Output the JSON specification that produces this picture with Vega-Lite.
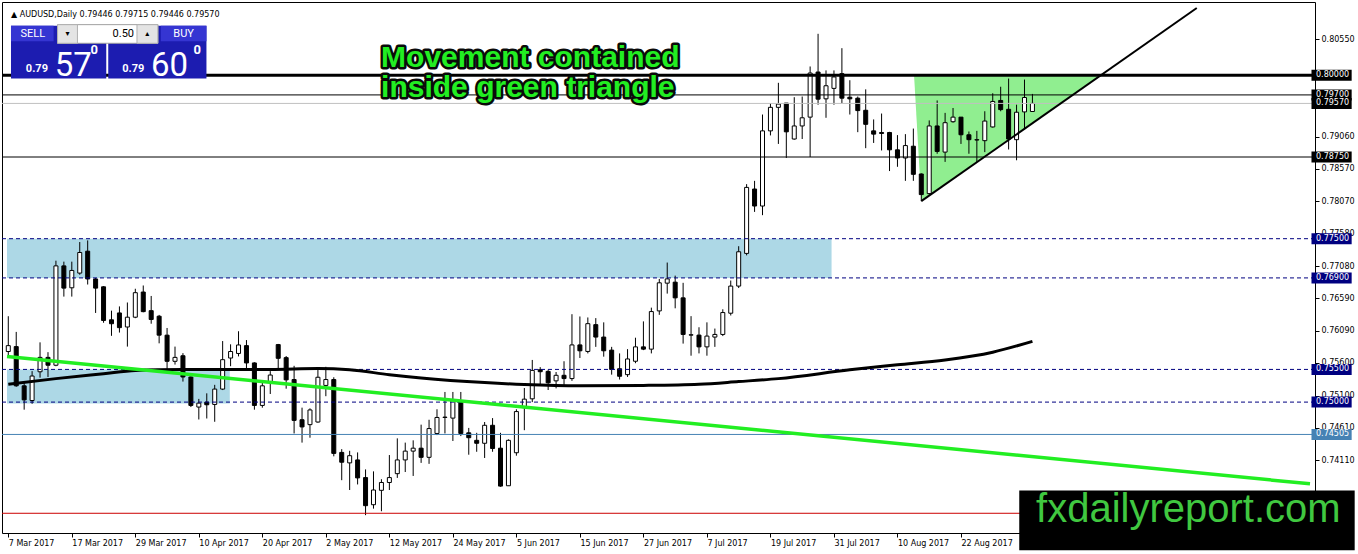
{
"$schema":"https://vega.github.io/schema/vega-lite/v6.json",
"width":1313,"height":531,
"autosize":{"type":"none"},
"padding":{"left":2,"top":2,"right":43,"bottom":21},
"background":"white",
"config":{"view":{"stroke":"black","strokeWidth":1},"axis":{"grid":false,"domain":false,"labelFont":"DejaVu Sans","labelFontSize":8,"labelColor":"black","tickColor":"black","tickSize":4,"title":null}},
"datasets":{
"candles":[
{"i":0,"o":0.75774,"h":0.76314,"l":0.75699,"c":0.75864},
{"i":1,"o":0.75849,"h":0.76074,"l":0.75234,"c":0.75249},
{"i":2,"o":0.75249,"h":0.75314,"l":0.74884,"c":0.75034},
{"i":3,"o":0.75024,"h":0.75474,"l":0.74974,"c":0.75399},
{"i":4,"o":0.75464,"h":0.75914,"l":0.75374,"c":0.75684},
{"i":5,"o":0.75684,"h":0.75764,"l":0.75384,"c":0.75564},
{"i":6,"o":0.75564,"h":0.77164,"l":0.75549,"c":0.77084},
{"i":7,"o":0.77084,"h":0.77149,"l":0.76614,"c":0.76744},
{"i":8,"o":0.76749,"h":0.77149,"l":0.76614,"c":0.77014},
{"i":9,"o":0.76974,"h":0.77449,"l":0.76949,"c":0.77289},
{"i":10,"o":0.77309,"h":0.77474,"l":0.76799,"c":0.76884},
{"i":11,"o":0.76884,"h":0.76899,"l":0.76364,"c":0.76744},
{"i":12,"o":0.76764,"h":0.76774,"l":0.76214,"c":0.76249},
{"i":13,"o":0.76259,"h":0.76399,"l":0.76014,"c":0.76199},
{"i":14,"o":0.76364,"h":0.76464,"l":0.76064,"c":0.76139},
{"i":15,"o":0.76149,"h":0.76524,"l":0.75849,"c":0.76299},
{"i":16,"o":0.76299,"h":0.76734,"l":0.76284,"c":0.76674},
{"i":17,"o":0.76684,"h":0.76784,"l":0.76374,"c":0.76384},
{"i":18,"o":0.76399,"h":0.76624,"l":0.76199,"c":0.76264},
{"i":19,"o":0.76314,"h":0.76334,"l":0.75899,"c":0.76024},
{"i":20,"o":0.76024,"h":0.76134,"l":0.75499,"c":0.75624},
{"i":21,"o":0.75624,"h":0.75849,"l":0.75574,"c":0.75684},
{"i":22,"o":0.75709,"h":0.75749,"l":0.75314,"c":0.75384},
{"i":23,"o":0.75384,"h":0.75394,"l":0.74924,"c":0.74949},
{"i":24,"o":0.74924,"h":0.75049,"l":0.74734,"c":0.74984},
{"i":25,"o":0.74999,"h":0.75134,"l":0.74749,"c":0.74959},
{"i":26,"o":0.74964,"h":0.75264,"l":0.74699,"c":0.75199},
{"i":27,"o":0.75199,"h":0.75934,"l":0.75184,"c":0.75649},
{"i":28,"o":0.75674,"h":0.75884,"l":0.75549,"c":0.75774},
{"i":29,"o":0.75744,"h":0.76084,"l":0.75699,"c":0.75874},
{"i":30,"o":0.75864,"h":0.75949,"l":0.75499,"c":0.75599},
{"i":31,"o":0.75599,"h":0.75609,"l":0.74884,"c":0.74949},
{"i":32,"o":0.74949,"h":0.75299,"l":0.74914,"c":0.75249},
{"i":33,"o":0.75299,"h":0.75474,"l":0.75124,"c":0.75414},
{"i":34,"o":0.7588,"h":0.7589,"l":0.7552,"c":0.7567},
{"i":35,"o":0.7568,"h":0.75705,"l":0.75205,"c":0.7534},
{"i":36,"o":0.75345,"h":0.75555,"l":0.7452,"c":0.7472},
{"i":37,"o":0.7473,"h":0.74915,"l":0.7438,"c":0.7462},
{"i":38,"o":0.74655,"h":0.74905,"l":0.74455,"c":0.7488},
{"i":39,"o":0.74695,"h":0.7553,"l":0.74685,"c":0.7538},
{"i":40,"o":0.75255,"h":0.7554,"l":0.7509,"c":0.75345},
{"i":41,"o":0.75345,"h":0.7538,"l":0.7417,"c":0.74215},
{"i":42,"o":0.7423,"h":0.7428,"l":0.73805,"c":0.7408},
{"i":43,"o":0.7407,"h":0.74255,"l":0.73655,"c":0.7418},
{"i":44,"o":0.74115,"h":0.7423,"l":0.7374,"c":0.7384},
{"i":45,"o":0.73845,"h":0.7397,"l":0.7327,"c":0.73415},
{"i":46,"o":0.7343,"h":0.7394,"l":0.7337,"c":0.73655},
{"i":47,"o":0.7365,"h":0.7382,"l":0.7333,"c":0.7377},
{"i":48,"o":0.7377,"h":0.7419,"l":0.73655,"c":0.73845},
{"i":49,"o":0.73905,"h":0.74445,"l":0.7384,"c":0.74115},
{"i":50,"o":0.74115,"h":0.7438,"l":0.7393,"c":0.7425},
{"i":51,"o":0.7425,"h":0.74415,"l":0.7387,"c":0.74295},
{"i":52,"o":0.74295,"h":0.74655,"l":0.7407,"c":0.74155},
{"i":53,"o":0.74155,"h":0.7473,"l":0.74055,"c":0.74595},
{"i":54,"o":0.7452,"h":0.7489,"l":0.74495,"c":0.74765},
{"i":55,"o":0.74765,"h":0.75155,"l":0.7452,"c":0.7477},
{"i":56,"o":0.74755,"h":0.75155,"l":0.74405,"c":0.7503},
{"i":57,"o":0.75005,"h":0.75155,"l":0.7448,"c":0.7452},
{"i":58,"o":0.7453,"h":0.74605,"l":0.74195,"c":0.74455},
{"i":59,"o":0.74415,"h":0.7453,"l":0.7424,"c":0.7437},
{"i":60,"o":0.7437,"h":0.74695,"l":0.74145,"c":0.74645},
{"i":61,"o":0.74645,"h":0.74755,"l":0.7424,"c":0.7429},
{"i":62,"o":0.74295,"h":0.7453,"l":0.73705,"c":0.73715},
{"i":63,"o":0.7372,"h":0.7443,"l":0.7372,"c":0.74415},
{"i":64,"o":0.74225,"h":0.7489,"l":0.7418,"c":0.74855},
{"i":65,"o":0.74915,"h":0.75215,"l":0.7457,"c":0.75045},
{"i":66,"o":0.7505,"h":0.75645,"l":0.75,"c":0.75485},
{"i":67,"o":0.75495,"h":0.75535,"l":0.7526,"c":0.75465},
{"i":68,"o":0.7547,"h":0.75495,"l":0.75185,"c":0.75295},
{"i":69,"o":0.75325,"h":0.7546,"l":0.7521,"c":0.7541},
{"i":70,"o":0.7541,"h":0.75625,"l":0.7524,"c":0.7536},
{"i":71,"o":0.7536,"h":0.76345,"l":0.75325,"c":0.75875},
{"i":72,"o":0.75875,"h":0.7631,"l":0.75675,"c":0.75785},
{"i":73,"o":0.75775,"h":0.76295,"l":0.75745,"c":0.762},
{"i":74,"o":0.76185,"h":0.76285,"l":0.75845,"c":0.75995},
{"i":75,"o":0.75995,"h":0.7622,"l":0.75695,"c":0.75785},
{"i":76,"o":0.75795,"h":0.75845,"l":0.7542,"c":0.755},
{"i":77,"o":0.7551,"h":0.75745,"l":0.75345,"c":0.75395},
{"i":78,"o":0.7542,"h":0.7581,"l":0.75385,"c":0.7566},
{"i":79,"o":0.75625,"h":0.75985,"l":0.75595,"c":0.75845},
{"i":80,"o":0.75845,"h":0.76235,"l":0.75795,"c":0.7581},
{"i":81,"o":0.7581,"h":0.76445,"l":0.75745,"c":0.76385},
{"i":82,"o":0.76395,"h":0.76885,"l":0.76335,"c":0.76825},
{"i":83,"o":0.7682,"h":0.77135,"l":0.7666,"c":0.76885},
{"i":84,"o":0.76835,"h":0.76935,"l":0.76435,"c":0.76595},
{"i":85,"o":0.76595,"h":0.76825,"l":0.75895,"c":0.76035},
{"i":86,"o":0.76025,"h":0.76315,"l":0.7571,"c":0.7603},
{"i":87,"o":0.76025,"h":0.76145,"l":0.75745,"c":0.75845},
{"i":88,"o":0.75845,"h":0.7622,"l":0.7571,"c":0.7601},
{"i":89,"o":0.75995,"h":0.76125,"l":0.75845,"c":0.76035},
{"i":90,"o":0.76035,"h":0.7642,"l":0.7601,"c":0.7637},
{"i":91,"o":0.7636,"h":0.7686,"l":0.76325,"c":0.76775},
{"i":92,"o":0.76775,"h":0.77385,"l":0.76745,"c":0.773},
{"i":93,"o":0.77275,"h":0.78335,"l":0.77245,"c":0.78285},
{"i":94,"o":0.7826,"h":0.78385,"l":0.7791,"c":0.78},
{"i":95,"o":0.78,"h":0.794,"l":0.7786,"c":0.7915},
{"i":96,"o":0.7915,"h":0.79575,"l":0.7908,"c":0.7951},
{"i":97,"o":0.7951,"h":0.79885,"l":0.7895,"c":0.7956},
{"i":98,"o":0.79575,"h":0.79575,"l":0.78735,"c":0.79135},
{"i":99,"o":0.79025,"h":0.79665,"l":0.79015,"c":0.79225},
{"i":100,"o":0.79225,"h":0.79675,"l":0.79025,"c":0.7935},
{"i":101,"o":0.7936,"h":0.80135,"l":0.7875,"c":0.80035},
{"i":102,"o":0.8005,"h":0.80635,"l":0.7955,"c":0.79635},
{"i":103,"o":0.7964,"h":0.80075,"l":0.7935,"c":0.7984},
{"i":104,"o":0.798,"h":0.80075,"l":0.7955,"c":0.79975},
{"i":105,"o":0.80025,"h":0.80415,"l":0.79575,"c":0.7965},
{"i":106,"o":0.79665,"h":0.79925,"l":0.794,"c":0.7964},
{"i":107,"o":0.7965,"h":0.79675,"l":0.7913,"c":0.7946},
{"i":108,"o":0.79465,"h":0.79785,"l":0.78885,"c":0.7925},
{"i":109,"o":0.7915,"h":0.79325,"l":0.78965,"c":0.791},
{"i":110,"o":0.79125,"h":0.79415,"l":0.7885,"c":0.7911},
{"i":111,"o":0.79125,"h":0.79135,"l":0.78535,"c":0.7886},
{"i":112,"o":0.7886,"h":0.79085,"l":0.786,"c":0.78735},
{"i":113,"o":0.78735,"h":0.791,"l":0.78385,"c":0.78925},
{"i":114,"o":0.78915,"h":0.79185,"l":0.78385,"c":0.78485},
{"i":115,"o":0.7849,"h":0.785,"l":0.78075,"c":0.78175},
{"i":116,"o":0.7819,"h":0.7931,"l":0.78175,"c":0.79225},
{"i":117,"o":0.79225,"h":0.79615,"l":0.788,"c":0.78835},
{"i":118,"o":0.78825,"h":0.79425,"l":0.78675,"c":0.79275},
{"i":119,"o":0.7929,"h":0.795,"l":0.79275,"c":0.7936},
{"i":120,"o":0.7936,"h":0.7936,"l":0.7895,"c":0.7909},
{"i":121,"o":0.7909,"h":0.7914,"l":0.788,"c":0.79015},
{"i":122,"o":0.7901,"h":0.7915,"l":0.78675,"c":0.79015},
{"i":123,"o":0.79,"h":0.7945,"l":0.78825,"c":0.793},
{"i":124,"o":0.7921,"h":0.79725,"l":0.792,"c":0.796},
{"i":125,"o":0.79615,"h":0.79825,"l":0.7945,"c":0.79475},
{"i":126,"o":0.7948,"h":0.7995,"l":0.78865,"c":0.79025},
{"i":127,"o":0.79015,"h":0.7955,"l":0.787,"c":0.79435},
{"i":128,"o":0.7944,"h":0.79935,"l":0.79175,"c":0.7966},
{"i":129,"o":0.79446,"h":0.79715,"l":0.79446,"c":0.7957}
],
"ma":[
{"i":0,"v":0.75273},{"i":6,"v":0.75359},{"i":12,"v":0.75434},{"i":16,"v":0.75483},{"i":22,"v":0.75498},{"i":33,"v":0.755},{"i":39,"v":0.75513},{"i":43,"v":0.75494},{"i":48,"v":0.7542},{"i":52,"v":0.7537},{"i":60,"v":0.75299},{"i":65,"v":0.75269},{"i":72,"v":0.75249},{"i":80,"v":0.75255},{"i":87,"v":0.75273},{"i":92,"v":0.75314},{"i":97,"v":0.75359},{"i":106,"v":0.75494},{"i":112,"v":0.7557},{"i":118,"v":0.75644},{"i":124,"v":0.75764},{"i":129,"v":0.75929}
],
"green":[{"i":-0.1625,"p":0.75696},{"i":163.9625,"p":0.7375}],
"trend":[{"i":115.0,"p":0.78074},{"i":149.7,"p":0.8103}],
"tri":[{"i":114.09,"top":0.8,"bot":0.8},{"i":115.0,"top":0.8,"bot":0.78074},{"i":137.6,"top":0.8,"bot":0.8}],
"zones":[{"a":-0.1625,"b":103.7,"lo":0.769,"hi":0.775},{"a":-0.1625,"b":27.9,"lo":0.7498,"hi":0.755}],
"dashed":[{"p":0.775},{"p":0.769},{"p":0.755},{"p":0.75}],
"thin":[{"p":0.797},{"p":0.7875}],
"blackTags":[{"p":0.8},{"p":0.797},{"p":0.7957},{"p":0.7875}],
"navyTags":[{"p":0.775},{"p":0.769},{"p":0.755},{"p":0.75}],
"steelTags":[{"p":0.74505}],
"one":[{}]
},
"layer":[
{"data":{"name":"zones"},"mark":{"type":"rect","color":"#add8e6"},
 "encoding":{
  "x":{"field":"a","type":"quantitative","scale":{"domain":[-0.1625,163.9625],"nice":false,"zero":false},"title":null,
   "axis":{"orient":"bottom","values":[0,8,16,24,32,40,48,56,64,72,80,88,96,104,112,120],"labelExpr":"['7 Mar 2017','17 Mar 2017','29 Mar 2017','10 Apr 2017','20 Apr 2017','2 May 2017','12 May 2017','24 May 2017','5 Jun 2017','15 Jun 2017','27 Jun 2017','7 Jul 2017','19 Jul 2017','31 Jul 2017','10 Aug 2017','22 Aug 2017'][round(datum.value/8)]","labelAlign":"left","labelPadding":2,"labelFlush":false,"labelOverlap":false,"labelBound":false,"title":null}},
  "x2":{"field":"b"},
  "y":{"field":"lo","type":"quantitative","scale":{"domain":[0.730736,0.810451],"nice":false,"zero":false},"title":null,
   "axis":{"orient":"right","values":[0.8055,0.7906,0.7857,0.7807,0.7758,0.7708,0.7659,0.7609,0.756,0.751,0.7461,0.7411],"format":".5f","labelPadding":2,"labelFlush":false,"labelOverlap":false,"labelBound":false,"title":null}},
  "y2":{"field":"hi"}}},
{"data":{"name":"tri"},"mark":{"type":"area","color":"#90ee90","opacity":1},
 "encoding":{"x":{"field":"i","type":"quantitative","scale":{"domain":[-0.1625,163.9625],"nice":false,"zero":false},"title":null},
  "y":{"field":"top","type":"quantitative","scale":{"domain":[0.730736,0.810451],"nice":false,"zero":false},"title":null},"y2":{"field":"bot"}}},
{"data":{"name":"candles"},"mark":{"type":"rule","color":"black","strokeWidth":1},
 "encoding":{"x":{"field":"i","type":"quantitative","scale":{"domain":[-0.1625,163.9625],"nice":false,"zero":false},"title":null},
  "y":{"field":"l","type":"quantitative","scale":{"domain":[0.730736,0.810451],"nice":false,"zero":false},"title":null},"y2":{"field":"h"}}},
{"data":{"name":"candles"},"mark":{"type":"bar","width":4,"stroke":"black","strokeWidth":1},
 "encoding":{"x":{"field":"i","type":"quantitative","scale":{"domain":[-0.1625,163.9625],"nice":false,"zero":false},"title":null},
  "y":{"field":"o","type":"quantitative","scale":{"domain":[0.730736,0.810451],"nice":false,"zero":false},"title":null},"y2":{"field":"c"},
  "fill":{"condition":{"test":"datum.c >= datum.o","value":"white"},"value":"black"}}},
{"data":{"name":"dashed"},"mark":{"type":"rule","color":"#000080","strokeWidth":1,"strokeDash":[4,3]},
 "encoding":{"y":{"field":"p","type":"quantitative","scale":{"domain":[0.730736,0.810451],"nice":false,"zero":false},"title":null}}},
{"data":{"name":"thin"},"mark":{"type":"rule","color":"black","strokeWidth":1},
 "encoding":{"y":{"field":"p","type":"quantitative","scale":{"domain":[0.730736,0.810451],"nice":false,"zero":false},"title":null}}},
{"data":{"name":"one"},"mark":{"type":"rule","color":"#c0c0c0","strokeWidth":1},
 "encoding":{"y":{"datum":0.7957,"type":"quantitative","scale":{"domain":[0.730736,0.810451],"nice":false,"zero":false},"title":null}}},
{"data":{"name":"one"},"mark":{"type":"rule","color":"#4682b4","strokeWidth":1},
 "encoding":{"y":{"datum":0.74505,"type":"quantitative","scale":{"domain":[0.730736,0.810451],"nice":false,"zero":false},"title":null}}},
{"data":{"name":"one"},"mark":{"type":"rule","color":"#cc0000","strokeWidth":1},
 "encoding":{"y":{"datum":0.73299,"type":"quantitative","scale":{"domain":[0.730736,0.810451],"nice":false,"zero":false},"title":null}}},
{"data":{"name":"one"},"mark":{"type":"rule","color":"black","strokeWidth":3},
 "encoding":{"y":{"datum":0.8,"type":"quantitative","scale":{"domain":[0.730736,0.810451],"nice":false,"zero":false},"title":null}}},
{"data":{"name":"ma"},"mark":{"type":"line","color":"black","strokeWidth":3,"interpolate":"monotone"},
 "encoding":{"x":{"field":"i","type":"quantitative","scale":{"domain":[-0.1625,163.9625],"nice":false,"zero":false},"title":null},
  "y":{"field":"v","type":"quantitative","scale":{"domain":[0.730736,0.810451],"nice":false,"zero":false},"title":null}}},
{"data":{"name":"green"},"mark":{"type":"line","color":"#22ee22","strokeWidth":3.5},
 "encoding":{"x":{"field":"i","type":"quantitative","scale":{"domain":[-0.1625,163.9625],"nice":false,"zero":false},"title":null},
  "y":{"field":"p","type":"quantitative","scale":{"domain":[0.730736,0.810451],"nice":false,"zero":false},"title":null}}},
{"data":{"name":"trend"},"mark":{"type":"line","color":"black","strokeWidth":2},
 "encoding":{"x":{"field":"i","type":"quantitative","scale":{"domain":[-0.1625,163.9625],"nice":false,"zero":false},"title":null},
  "y":{"field":"p","type":"quantitative","scale":{"domain":[0.730736,0.810451],"nice":false,"zero":false},"title":null}}},
{"data":{"name":"one"},"mark":{"type":"text","text":["Movement contained","inside green triangle"],"font":"Liberation Sans","fontWeight":"bold","fontSize":30,"lineHeight":30,"align":"left","baseline":"alphabetic","fill":"#0a0a0a","stroke":"#0a0a0a","strokeWidth":5,"strokeJoin":"round"},
 "encoding":{"x":{"datum":46.96,"type":"quantitative","scale":{"domain":[-0.1625,163.9625],"nice":false,"zero":false},"title":null},
  "y":{"datum":0.8012,"type":"quantitative","scale":{"domain":[0.730736,0.810451],"nice":false,"zero":false},"title":null}}},
{"data":{"name":"one"},"mark":{"type":"text","text":["Movement contained","inside green triangle"],"font":"Liberation Sans","fontWeight":"bold","fontSize":30,"lineHeight":30,"align":"left","baseline":"alphabetic","fill":"#22ee22"},
 "encoding":{"x":{"datum":46.96,"type":"quantitative","scale":{"domain":[-0.1625,163.9625],"nice":false,"zero":false},"title":null},
  "y":{"datum":0.8012,"type":"quantitative","scale":{"domain":[0.730736,0.810451],"nice":false,"zero":false},"title":null}}},
{"data":{"name":"one"},"mark":{"type":"rect","color":"#1c1cb0"},
 "encoding":{"x":{"datum":0.34,"type":"quantitative","scale":{"domain":[-0.1625,163.9625],"nice":false,"zero":false},"title":null},"x2":{"datum":12.34},
  "y":{"datum":0.8076,"type":"quantitative","scale":{"domain":[0.730736,0.810451],"nice":false,"zero":false},"title":null},"y2":{"datum":0.7995}}},
{"data":{"name":"one"},"mark":{"type":"rect","color":"#1c1cb0"},
 "encoding":{"x":{"datum":12.59,"type":"quantitative","scale":{"domain":[-0.1625,163.9625],"nice":false,"zero":false},"title":null},"x2":{"datum":24.96},
  "y":{"datum":0.8076,"type":"quantitative","scale":{"domain":[0.730736,0.810451],"nice":false,"zero":false},"title":null},"y2":{"datum":0.7995}}},
{"data":{"name":"one"},"mark":{"type":"rect","color":"#3535d2"},
 "encoding":{"x":{"datum":0.34,"type":"quantitative","scale":{"domain":[-0.1625,163.9625],"nice":false,"zero":false},"title":null},"x2":{"datum":5.71},
  "y":{"datum":0.8076,"type":"quantitative","scale":{"domain":[0.730736,0.810451],"nice":false,"zero":false},"title":null},"y2":{"datum":0.8052}}},
{"data":{"name":"one"},"mark":{"type":"rect","color":"#3535d2"},
 "encoding":{"x":{"datum":19.21,"type":"quantitative","scale":{"domain":[-0.1625,163.9625],"nice":false,"zero":false},"title":null},"x2":{"datum":24.96},
  "y":{"datum":0.8076,"type":"quantitative","scale":{"domain":[0.730736,0.810451],"nice":false,"zero":false},"title":null},"y2":{"datum":0.8052}}},
{"data":{"name":"one"},"mark":{"type":"rect","fill":"white","stroke":"#a0a0a0","strokeWidth":1},
 "encoding":{"x":{"datum":6.21,"type":"quantitative","scale":{"domain":[-0.1625,163.9625],"nice":false,"zero":false},"title":null},"x2":{"datum":18.84},
  "y":{"datum":0.80775,"type":"quantitative","scale":{"domain":[0.730736,0.810451],"nice":false,"zero":false},"title":null},"y2":{"datum":0.8049}}},
{"data":{"name":"one"},"mark":{"type":"rect","fill":"#e4e4e4","stroke":"#b0b0b0","strokeWidth":1},
 "encoding":{"x":{"datum":6.21,"type":"quantitative","scale":{"domain":[-0.1625,163.9625],"nice":false,"zero":false},"title":null},"x2":{"datum":8.71},
  "y":{"datum":0.80775,"type":"quantitative","scale":{"domain":[0.730736,0.810451],"nice":false,"zero":false},"title":null},"y2":{"datum":0.8049}}},
{"data":{"name":"one"},"mark":{"type":"rect","fill":"#e4e4e4","stroke":"#b0b0b0","strokeWidth":1},
 "encoding":{"x":{"datum":16.21,"type":"quantitative","scale":{"domain":[-0.1625,163.9625],"nice":false,"zero":false},"title":null},"x2":{"datum":18.84},
  "y":{"datum":0.80775,"type":"quantitative","scale":{"domain":[0.730736,0.810451],"nice":false,"zero":false},"title":null},"y2":{"datum":0.8049}}},
{"data":{"name":"one"},"mark":{"type":"text","text":"SELL","font":"Roboto","fontSize":11,"fill":"white","align":"center","baseline":"middle"},
 "encoding":{"x":{"datum":3.09,"type":"quantitative","scale":{"domain":[-0.1625,163.9625],"nice":false,"zero":false},"title":null},
  "y":{"datum":0.80633,"type":"quantitative","scale":{"domain":[0.730736,0.810451],"nice":false,"zero":false},"title":null}}},
{"data":{"name":"one"},"mark":{"type":"text","text":"BUY","font":"Roboto","fontSize":11,"fill":"white","align":"center","baseline":"middle"},
 "encoding":{"x":{"datum":22.09,"type":"quantitative","scale":{"domain":[-0.1625,163.9625],"nice":false,"zero":false},"title":null},
  "y":{"datum":0.80633,"type":"quantitative","scale":{"domain":[0.730736,0.810451],"nice":false,"zero":false},"title":null}}},
{"data":{"name":"one"},"mark":{"type":"text","text":"0.50","font":"Roboto","fontSize":11,"fill":"black","align":"right","baseline":"middle"},
 "encoding":{"x":{"datum":15.84,"type":"quantitative","scale":{"domain":[-0.1625,163.9625],"nice":false,"zero":false},"title":null},
  "y":{"datum":0.80633,"type":"quantitative","scale":{"domain":[0.730736,0.810451],"nice":false,"zero":false},"title":null}}},
{"data":{"name":"one"},"mark":{"type":"text","text":"▾","font":"DejaVu Sans","fontSize":8,"fill":"black","align":"center","baseline":"middle"},
 "encoding":{"x":{"datum":7.46,"type":"quantitative","scale":{"domain":[-0.1625,163.9625],"nice":false,"zero":false},"title":null},
  "y":{"datum":0.80633,"type":"quantitative","scale":{"domain":[0.730736,0.810451],"nice":false,"zero":false},"title":null}}},
{"data":{"name":"one"},"mark":{"type":"text","text":"▴","font":"DejaVu Sans","fontSize":8,"fill":"black","align":"center","baseline":"middle"},
 "encoding":{"x":{"datum":17.5,"type":"quantitative","scale":{"domain":[-0.1625,163.9625],"nice":false,"zero":false},"title":null},
  "y":{"datum":0.80633,"type":"quantitative","scale":{"domain":[0.730736,0.810451],"nice":false,"zero":false},"title":null}}},
{"data":{"name":"one"},"mark":{"type":"text","text":"0.79","font":"Roboto","fontWeight":"bold","fontSize":11,"fill":"white","align":"left","baseline":"alphabetic"},
 "encoding":{"x":{"datum":2.21,"type":"quantitative","scale":{"domain":[-0.1625,163.9625],"nice":false,"zero":false},"title":null},
  "y":{"datum":0.80055,"type":"quantitative","scale":{"domain":[0.730736,0.810451],"nice":false,"zero":false},"title":null}}},
{"data":{"name":"one"},"mark":{"type":"text","text":"0.79","font":"Roboto","fontWeight":"bold","fontSize":11,"fill":"white","align":"left","baseline":"alphabetic"},
 "encoding":{"x":{"datum":14.34,"type":"quantitative","scale":{"domain":[-0.1625,163.9625],"nice":false,"zero":false},"title":null},
  "y":{"datum":0.80055,"type":"quantitative","scale":{"domain":[0.730736,0.810451],"nice":false,"zero":false},"title":null}}},
{"data":{"name":"one"},"mark":{"type":"text","text":"57","font":"Roboto","fontSize":33,"fill":"white","align":"left","baseline":"alphabetic"},
 "encoding":{"x":{"datum":5.84,"type":"quantitative","scale":{"domain":[-0.1625,163.9625],"nice":false,"zero":false},"title":null},
  "y":{"datum":0.79988,"type":"quantitative","scale":{"domain":[0.730736,0.810451],"nice":false,"zero":false},"title":null}}},
{"data":{"name":"one"},"mark":{"type":"text","text":"60","font":"Roboto","fontSize":33,"fill":"white","align":"left","baseline":"alphabetic"},
 "encoding":{"x":{"datum":17.96,"type":"quantitative","scale":{"domain":[-0.1625,163.9625],"nice":false,"zero":false},"title":null},
  "y":{"datum":0.79988,"type":"quantitative","scale":{"domain":[0.730736,0.810451],"nice":false,"zero":false},"title":null}}},
{"data":{"name":"one"},"mark":{"type":"text","text":"0","font":"Roboto","fontWeight":"bold","fontSize":13,"fill":"white","align":"left","baseline":"alphabetic"},
 "encoding":{"x":{"datum":10.34,"type":"quantitative","scale":{"domain":[-0.1625,163.9625],"nice":false,"zero":false},"title":null},
  "y":{"datum":0.80325,"type":"quantitative","scale":{"domain":[0.730736,0.810451],"nice":false,"zero":false},"title":null}}},
{"data":{"name":"one"},"mark":{"type":"text","text":"0","font":"Roboto","fontWeight":"bold","fontSize":13,"fill":"white","align":"left","baseline":"alphabetic"},
 "encoding":{"x":{"datum":23.34,"type":"quantitative","scale":{"domain":[-0.1625,163.9625],"nice":false,"zero":false},"title":null},
  "y":{"datum":0.80325,"type":"quantitative","scale":{"domain":[0.730736,0.810451],"nice":false,"zero":false},"title":null}}},
{"data":{"name":"one"},"mark":{"type":"text","text":"▲  AUDUSD,Daily  0.79446 0.79715 0.79446 0.79570","font":"DejaVu Sans","fontSize":8,"fill":"black","align":"left","baseline":"alphabetic"},
 "encoding":{"x":{"datum":0.34,"type":"quantitative","scale":{"domain":[-0.1625,163.9625],"nice":false,"zero":false},"title":null},
  "y":{"datum":0.80885,"type":"quantitative","scale":{"domain":[0.730736,0.810451],"nice":false,"zero":false},"title":null}}},
{"data":{"name":"blackTags"},"mark":{"type":"bar","height":11,"color":"black"},
 "encoding":{"x":{"datum":164.15,"type":"quantitative","scale":{"domain":[-0.1625,163.9625],"nice":false,"zero":false},"title":null},"x2":{"datum":169.21},
  "y":{"field":"p","type":"quantitative","scale":{"domain":[0.730736,0.810451],"nice":false,"zero":false},"title":null}}},
{"data":{"name":"navyTags"},"mark":{"type":"bar","height":11,"color":"#000080"},
 "encoding":{"x":{"datum":164.15,"type":"quantitative","scale":{"domain":[-0.1625,163.9625],"nice":false,"zero":false},"title":null},"x2":{"datum":169.21},
  "y":{"field":"p","type":"quantitative","scale":{"domain":[0.730736,0.810451],"nice":false,"zero":false},"title":null}}},
{"data":{"name":"steelTags"},"mark":{"type":"bar","height":11,"color":"#4682b4"},
 "encoding":{"x":{"datum":164.15,"type":"quantitative","scale":{"domain":[-0.1625,163.9625],"nice":false,"zero":false},"title":null},"x2":{"datum":169.21},
  "y":{"field":"p","type":"quantitative","scale":{"domain":[0.730736,0.810451],"nice":false,"zero":false},"title":null}}},
{"data":{"name":"blackTags"},"mark":{"type":"text","font":"DejaVu Sans","fontSize":8,"fill":"white","align":"left","baseline":"middle"},
 "encoding":{"x":{"datum":164.72,"type":"quantitative","scale":{"domain":[-0.1625,163.9625],"nice":false,"zero":false},"title":null},
  "y":{"field":"p","type":"quantitative","scale":{"domain":[0.730736,0.810451],"nice":false,"zero":false},"title":null},
  "text":{"field":"p","type":"quantitative","format":".5f"}}},
{"data":{"name":"navyTags"},"mark":{"type":"text","font":"DejaVu Sans","fontSize":8,"fill":"white","align":"left","baseline":"middle"},
 "encoding":{"x":{"datum":164.72,"type":"quantitative","scale":{"domain":[-0.1625,163.9625],"nice":false,"zero":false},"title":null},
  "y":{"field":"p","type":"quantitative","scale":{"domain":[0.730736,0.810451],"nice":false,"zero":false},"title":null},
  "text":{"field":"p","type":"quantitative","format":".5f"}}},
{"data":{"name":"steelTags"},"mark":{"type":"text","font":"DejaVu Sans","fontSize":8,"fill":"white","align":"left","baseline":"middle"},
 "encoding":{"x":{"datum":164.72,"type":"quantitative","scale":{"domain":[-0.1625,163.9625],"nice":false,"zero":false},"title":null},
  "y":{"field":"p","type":"quantitative","scale":{"domain":[0.730736,0.810451],"nice":false,"zero":false},"title":null},
  "text":{"field":"p","type":"quantitative","format":".5f"}}},
{"data":{"name":"one"},"mark":{"type":"rect","color":"black"},
 "encoding":{"x":{"datum":127.34,"type":"quantitative","scale":{"domain":[-0.1625,163.9625],"nice":false,"zero":false},"title":null},"x2":{"datum":169.59},
  "y":{"datum":0.73648,"type":"quantitative","scale":{"domain":[0.730736,0.810451],"nice":false,"zero":false},"title":null},"y2":{"datum":0.72733}}},
{"data":{"name":"one"},"mark":{"type":"text","text":"fxdailyreport.com","font":"Liberation Sans","fontSize":40,"fill":"#40c840","align":"left","baseline":"alphabetic"},
 "encoding":{"x":{"datum":129.46,"type":"quantitative","scale":{"domain":[-0.1625,163.9625],"nice":false,"zero":false},"title":null},
  "y":{"datum":0.73168,"type":"quantitative","scale":{"domain":[0.730736,0.810451],"nice":false,"zero":false},"title":null}}}
]
}
